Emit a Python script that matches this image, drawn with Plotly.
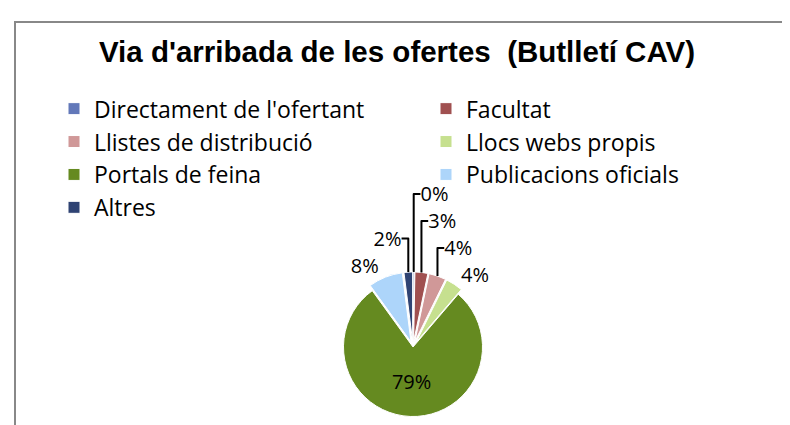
import plotly.graph_objects as go

categories = ["Directament de l'ofertant", "Facultat", "Llistes de distribució",
              "Llocs webs propis", "Portals de feina", "Publicacions oficials", "Altres"]
values = [0.3, 3, 4, 4, 79, 8, 2]
colors = ["#6278B9", "#A05050", "#D09898", "#C6E08F", "#658A20", "#ADD5FA", "#2F4373"]
text_positions = ["outside", "outside", "outside", "outside", "inside", "outside", "outside"]
pulls = [0.08, 0.08, 0.08, 0.08, 0.0, 0.08, 0.08]

title_text = "Via d'arribada de les ofertes  (Butlletí CAV)"

W, H = 790, 425
ml, mr, mt, mb = 6, 0, 13, 0
gw, gh = W - ml - mr, H - mt - mb

def px_x(p):
    return (p - ml) / gw

def px_y(p):
    return (H - mb - p) / gh

cx, cy, r = 405, 343, 76

label_font = dict(family="Open Sans", size=20, color="black")

fig = go.Figure(go.Pie(
    labels=categories,
    values=values,
    sort=False,
    direction="clockwise",
    rotation=0,
    marker=dict(colors=colors, line=dict(color="white", width=1)),
    textinfo="percent",
    texttemplate="%{percent:.0%}",
    textposition=text_positions,
    pull=pulls,
    textfont=label_font,
    insidetextfont=label_font,
    outsidetextfont=label_font,
    domain=dict(x=[px_x(cx - r), px_x(cx + r)], y=[px_y(cy + r), px_y(cy - r)]),
    hoverinfo="label+percent",
))

fig.update_layout(
    width=W, height=H,
    margin=dict(l=ml, r=mr, t=mt, b=mb),
    paper_bgcolor="white",
    plot_bgcolor="white",
    title=dict(text="<b>" + title_text + "</b>", x=389 / W, xref="container", xanchor="center",
               y=1 - 44 / H, yref="container", yanchor="middle",
               font=dict(family="Liberation Sans", size=29.5, color="black")),
    showlegend=True,
    legend=dict(orientation="h", x=px_x(51), xanchor="left", y=px_y(80), yanchor="top",
                entrywidth=327, entrywidthmode="pixels", traceorder="normal",
                font=dict(family="Open Sans", size=23, color="black"),
                bgcolor="rgba(0,0,0,0)"),
    shapes=[dict(type="rect", xref="paper", yref="paper",
                 x0=px_x(7), x1=1.2, y0=-0.2, y1=px_y(14),
                 line=dict(color="#888888", width=2), fillcolor="rgba(0,0,0,0)", layer="below")],
)

fig.write_html("out.html")
